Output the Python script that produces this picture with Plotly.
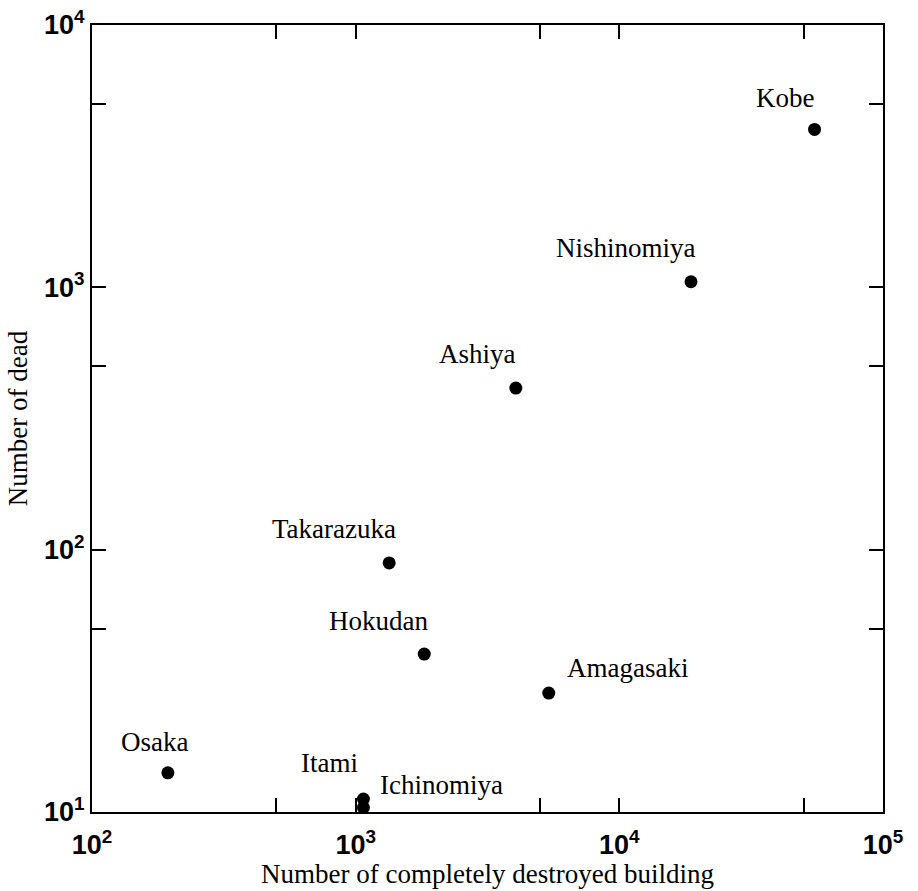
import math
import plotly.graph_objects as go

# ---- data ----
cities = ["Kobe", "Nishinomiya", "Ashiya", "Takarazuka", "Hokudan",
          "Amagasaki", "Osaka", "Itami", "Ichinomiya"]
destroyed = [55000, 18700, 4050, 1340, 1820, 5400, 194, 1070, 1070]
dead = [4000, 1050, 413, 89, 40, 28.4, 14.1, 11.2, 10.4]

x_tickvals = [100, 500, 1000, 5000, 10000, 50000, 100000]
x_ticktext = ["10<sup>2</sup>", "", "10<sup>3</sup>", "", "10<sup>4</sup>", "", "10<sup>5</sup>"]
y_tickvals = [10, 50, 100, 500, 1000, 5000, 10000]
y_ticktext = ["10<sup>1</sup>", "", "10<sup>2</sup>", "", "10<sup>3</sup>", "", "10<sup>4</sup>"]

x_title = "Number of completely destroyed building"
y_title = "Number of dead"

# label offsets in pixels (style)
label_dx = [-30, -65, -38, -55, -46, 79, -13, -34, 78]
label_dy = [31, 34, 34, 34, 33, 25, 31, 36, 23]

serif = "Liberation Serif, Times New Roman, serif"
sans = "Liberation Sans, Arial, Helvetica, sans-serif"

fig = go.Figure()
fig.add_trace(go.Scatter(
    x=destroyed, y=dead, mode="markers",
    marker=dict(color="black", size=13),
    hoverinfo="skip", showlegend=False,
))

annotations = []
for name, xv, yv, dx, dy in zip(cities, destroyed, dead, label_dx, label_dy):
    annotations.append(dict(
        x=math.log10(xv), y=math.log10(yv), xref="x", yref="y",
        text=name, showarrow=False, xshift=dx, yshift=dy,
        font=dict(family=serif, size=27, color="black"),
    ))

annotations.append(dict(
    x=0.5, y=-0.057, xref="paper", yref="paper", text=x_title,
    showarrow=False, yanchor="top",
    font=dict(family=serif, size=27, color="black"),
))
annotations.append(dict(
    x=-0.094, y=0.5, xref="paper", yref="paper", text=y_title,
    showarrow=False, textangle=-90, xanchor="center",
    font=dict(family=serif, size=27, color="black"),
))

axis_common = dict(
    type="log", showgrid=False, zeroline=False, automargin=False,
    showline=True, linecolor="black", linewidth=2, mirror="ticks",
    ticks="inside", ticklen=14, tickwidth=1.5, tickcolor="black",
    tickfont=dict(family=sans, size=27, color="black", weight="bold"),
)

fig.update_layout(
    width=918, height=891,
    margin=dict(l=92, r=35, t=25, b=79),
    paper_bgcolor="white", plot_bgcolor="white",
    xaxis=dict(range=[2, 5], tickmode="array", tickvals=x_tickvals,
               ticktext=x_ticktext, ticklabelstandoff=8, **axis_common),
    yaxis=dict(range=[1, 4], tickmode="array", tickvals=y_tickvals,
               ticktext=y_ticktext, **axis_common),
    annotations=annotations,
)

fig.write_html(
    "out.html",
    config={"displayModeBar": False},
    post_script="document.body.style.margin='0';document.body.style.overflow='hidden';",
)
